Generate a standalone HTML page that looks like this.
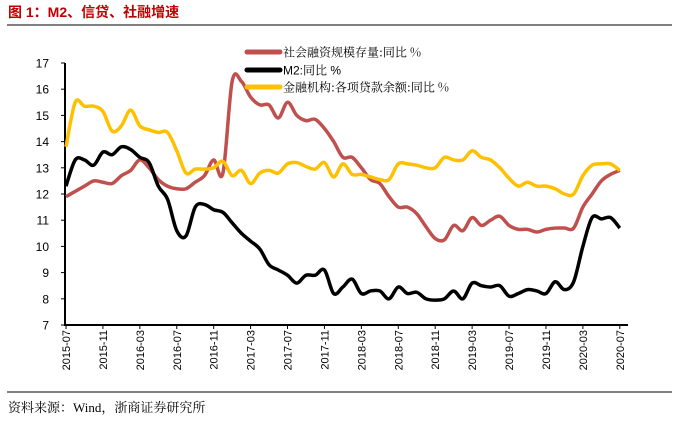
<!DOCTYPE html>
<html><head><meta charset="utf-8"><style>
body{margin:0;background:#fff;width:678px;height:418px;overflow:hidden;font-family:"Liberation Sans","Noto Sans CJK SC",sans-serif;}
</style></head><body>
<svg id="chart" width="678" height="418" xmlns="http://www.w3.org/2000/svg">
<text x="8" y="17" font-size="14" font-weight="bold" fill="#c00000" font-family="Liberation Sans, Noto Sans CJK SC, sans-serif">图 1：M2、信贷、社融增速</text>
<line x1="7" y1="25" x2="672" y2="25" stroke="#000" stroke-width="1"/>
<g id="axes"></g>
<g id="series"></g>
<g>
<line x1="247" y1="52" x2="280" y2="52" stroke="#c0504d" stroke-width="5" stroke-linecap="round"/>
<text x="283" y="56.5" font-size="12" font-family="Noto Serif CJK SC, serif">社会融资规模存量:同比 %</text>
<line x1="247" y1="70" x2="280" y2="70" stroke="#000" stroke-width="5" stroke-linecap="round"/>
<text x="283" y="74.5" font-size="12" font-family="Liberation Sans, Noto Serif CJK SC, serif">M2:同比 %</text>
<line x1="247" y1="87" x2="280" y2="87" stroke="#ffc000" stroke-width="5" stroke-linecap="round"/>
<text x="283" y="91.5" font-size="12" font-family="Noto Serif CJK SC, serif">金融机构:各项贷款余额:同比 %</text>
</g>
<line x1="7" y1="392" x2="672" y2="392" stroke="#000" stroke-width="1"/>
<text x="8" y="412" font-size="13" font-family="Liberation Serif, Noto Serif CJK SC, serif">资料来源：Wind，浙商证券研究所</text>
</svg>
<script>
const tickLabels=["2015-07","2015-11","2016-03","2016-07","2016-11","2017-03","2017-07","2017-11","2018-03","2018-07","2018-11","2019-03","2019-07","2019-11","2020-03","2020-07"];
const yTicks=[7,8,9,10,11,12,13,14,15,16,17];
const tsf=[11.9,12.1,12.3,12.5,12.45,12.4,12.7,12.9,13.3,13.0,12.55,12.3,12.2,12.2,12.45,12.7,13.3,12.8,16.3,16.3,15.7,15.4,15.4,14.9,15.5,15.0,14.8,14.85,14.5,14.0,13.4,13.4,13.0,12.55,12.4,11.9,11.5,11.5,11.25,10.75,10.3,10.25,10.8,10.6,11.1,10.8,11.0,11.15,10.8,10.65,10.65,10.55,10.65,10.7,10.7,10.7,11.5,12.0,12.5,12.75,12.9];
const m2=[12.3,13.3,13.3,13.1,13.6,13.5,13.8,13.7,13.4,13.2,12.3,11.8,10.6,10.4,11.5,11.6,11.4,11.3,10.9,10.5,10.2,9.9,9.3,9.1,8.9,8.6,8.9,8.9,9.1,8.2,8.45,8.75,8.2,8.3,8.3,8.0,8.45,8.2,8.25,8.0,7.95,8.0,8.3,8.0,8.6,8.5,8.45,8.5,8.1,8.2,8.35,8.3,8.2,8.65,8.35,8.65,10.0,11.1,11.05,11.1,10.7];
const loans=[13.8,15.5,15.35,15.35,15.15,14.4,14.6,15.2,14.6,14.45,14.35,14.35,13.65,12.8,12.95,12.95,13.0,13.25,12.7,12.9,12.4,12.8,12.9,12.8,13.15,13.2,13.05,12.95,13.2,12.65,13.15,12.75,12.75,12.65,12.55,12.55,13.15,13.15,13.1,13.0,13.0,13.4,13.3,13.3,13.65,13.4,13.3,13.0,12.6,12.3,12.45,12.3,12.3,12.2,12.0,12.0,12.7,13.1,13.15,13.15,12.9];
const NS="http://www.w3.org/2000/svg";
const X0=66,DX=9.23,Y0=63,YB=325;
const xs=i=>X0+DX*i;
const ys=v=>Y0+(17-v)*(YB-Y0)/10;
const axes=document.getElementById('axes');
function mk(tag,attrs,parent){const e=document.createElementNS(NS,tag);for(const k in attrs)e.setAttribute(k,attrs[k]);parent.appendChild(e);return e;}
const ya=mk('line',{x1:65,y1:Y0,x2:65,y2:YB,stroke:'#000','stroke-width':2},axes);


const xa=mk('line',{x1:64,y1:YB,x2:628,y2:YB,stroke:'#000','stroke-width':2},axes);


yTicks.forEach(v=>{
 const t=mk('line',{x1:61,y1:ys(v),x2:65,y2:ys(v),stroke:'#000','stroke-width':1},axes);
 
 
 const l=mk('text',{x:49,y:ys(v)+4.5,'font-size':12,'text-anchor':'end',fill:'#000'},axes);
 l.textContent=v;
 
 
});
tickLabels.forEach((s,k)=>{
 const x=xs(k*4);
 const t=mk('line',{x1:x,y1:YB,x2:x,y2:YB+4,stroke:'#000','stroke-width':1},axes);
 
 
 const l=mk('text',{x:0,y:0,'font-size':11,'text-anchor':'end',transform:`translate(${x+4},${YB+5}) rotate(-90)`},axes);
 l.textContent=s;
 
 
});
function smooth(vals){
 const p=vals.map((v,i)=>[xs(i),ys(v)]);
 let d=`M${p[0][0]},${p[0][1]}`;
 for(let i=0;i<p.length-1;i++){
  const a=p[i-1]||p[i],b=p[i],c=p[i+1],e=p[i+2]||c;
  const c1=[b[0]+(c[0]-a[0])/6,b[1]+(c[1]-a[1])/6],c2=[c[0]-(e[0]-b[0])/6,c[1]-(e[1]-b[1])/6];
  d+=` C${c1[0]},${c1[1]} ${c2[0]},${c2[1]} ${c[0]},${c[1]}`;
 }
 return d;
}
const sg=document.getElementById('series');
const s1=mk('path',{d:smooth(tsf),fill:'none',stroke:'#c0504d','stroke-width':3.5,'stroke-linejoin':'round'},sg);


const s2=mk('path',{d:smooth(m2),fill:'none',stroke:'#000','stroke-width':3.5,'stroke-linejoin':'round'},sg);


const s3=mk('path',{d:smooth(loans),fill:'none',stroke:'#ffc000','stroke-width':3.5,'stroke-linejoin':'round'},sg);


</script>
</body></html>
